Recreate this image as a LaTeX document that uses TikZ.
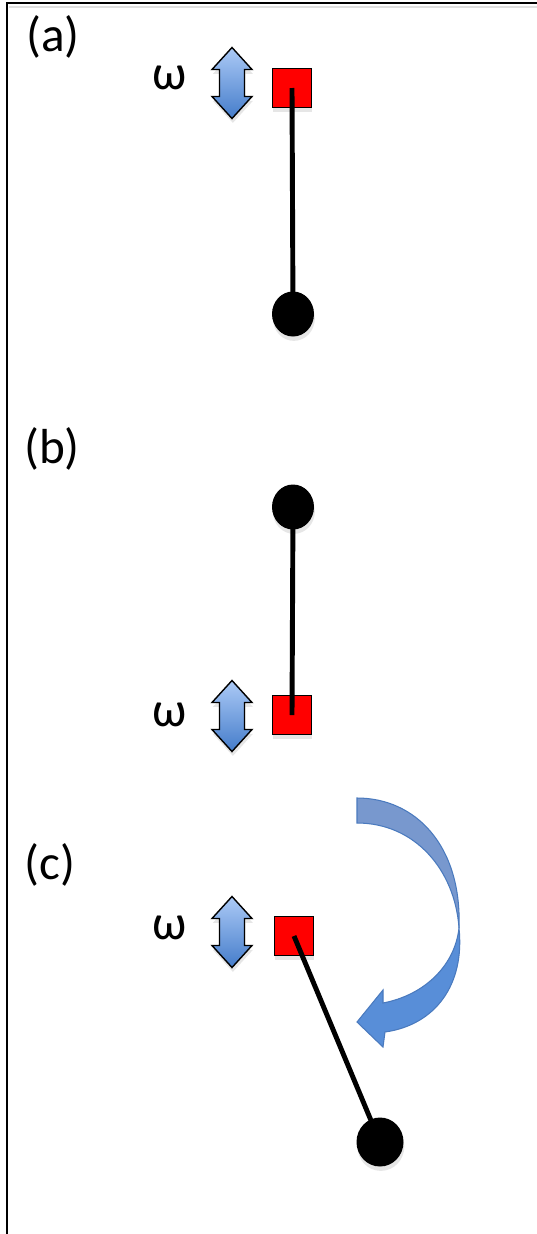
\documentclass[tikz,border=0pt]{standalone}
\usepackage{fontspec}
\setmainfont{Carlito}
\usetikzlibrary{shapes.geometric,shadows}

\definecolor{arrowtop}{RGB}{172,202,246}
\definecolor{arrowbottom}{RGB}{68,124,202}
\definecolor{turnback}{RGB}{120,152,206}
\definecolor{turnfront}{RGB}{88,142,216}
\definecolor{turnedge}{RGB}{74,122,190}

\begin{document}
\begin{tikzpicture}[x=0.02cm, y=-0.02cm,
    panel/.style={font=\fontsize{28}{34}\selectfont, inner sep=0pt},
    freq/.style={font=\fontsize{28}{34}\selectfont, inner sep=0pt},
    pivot/.style={draw, fill=red, minimum size=0.78cm, inner sep=0pt, line width=0.5pt,
        drop shadow={shadow xshift=0.5pt, shadow yshift=-2.5pt, opacity=0.2}},
    bob/.style={ellipse, fill=black, minimum width=0.84cm, minimum height=0.9cm, inner sep=0pt,
        drop shadow={shadow xshift=0.5pt, shadow yshift=-2.5pt, opacity=0.2}},
    rod/.style={line width=2.8pt},
    backhalf/.style={fill=turnback, draw=turnedge, line width=0.6pt},
    fronthalf/.style={fill=turnfront, draw=turnedge, line width=0.6pt},
    updown/.pic={
        \draw[line width=0.8pt, top color=arrowtop, bottom color=arrowbottom,
            drop shadow={shadow xshift=0.5pt, shadow yshift=-2.5pt, opacity=0.2}]
            (0,-35.5) -- (20,-13.5) -- (12.5,-13.5) -- (12.5,13.5) -- (20,13.5)
            -- (0,35.5) -- (-20,13.5) -- (-12.5,13.5) -- (-12.5,-13.5) -- (-20,-13.5) -- cycle;
    }
]
\useasboundingbox (0,0) rectangle (537,1234);

% frame
\draw[black!12, line width=1.5pt] (9,7) -- (537,7);
\draw[line width=1.2pt] (7,1234) -- (7,3) -- (537,3);

% (a) pivot on top
\node[panel] (label-a) at (53,37) {(a)};
\node[freq] (omega-a) at (170,78) {ω};
\pic at (232,83) {updown};
\node[pivot] (pivot-a) at (292,88) {};
\node[bob] (bob-a) at (293,314) {};
\draw[rod] (pivot-a.center) -- (bob-a.center);

% (b) pivot below
\node[panel] (label-b) at (52,449) {(b)};
\node[bob] (bob-b) at (293,507) {};
\node[freq] (omega-b) at (170,715) {ω};
\pic at (232,716) {updown};
\node[pivot] (pivot-b) at (292,715) {};
\draw[rod] (pivot-b.center) -- (bob-b.center);

% (c) swinging down
\node[panel] (label-c) at (50,865) {(c)};
\node[freq] (omega-c) at (170,928) {ω};
\pic at (232,932) {updown};
\node[pivot] (pivot-c) at (294,936) {};
\node[bob, minimum width=0.94cm, minimum height=0.98cm] (bob-c) at (380,1142) {};
\draw[rod] (pivot-c.center) -- (bob-c.center);

% turning arrow
\draw[backhalf] (357,798) .. controls (415,798) and (462,845) .. (459,928)
    .. controls (455,870) and (415,823) .. (357,823) -- cycle;
\draw[fronthalf] (459,928) .. controls (455,965) and (425,995) .. (383,1003)
    -- (383,990) -- (357,1022) -- (383,1047) -- (385,1032)
    .. controls (435,1025) and (465,985) .. (459,928) -- cycle;
\end{tikzpicture}
\end{document}
